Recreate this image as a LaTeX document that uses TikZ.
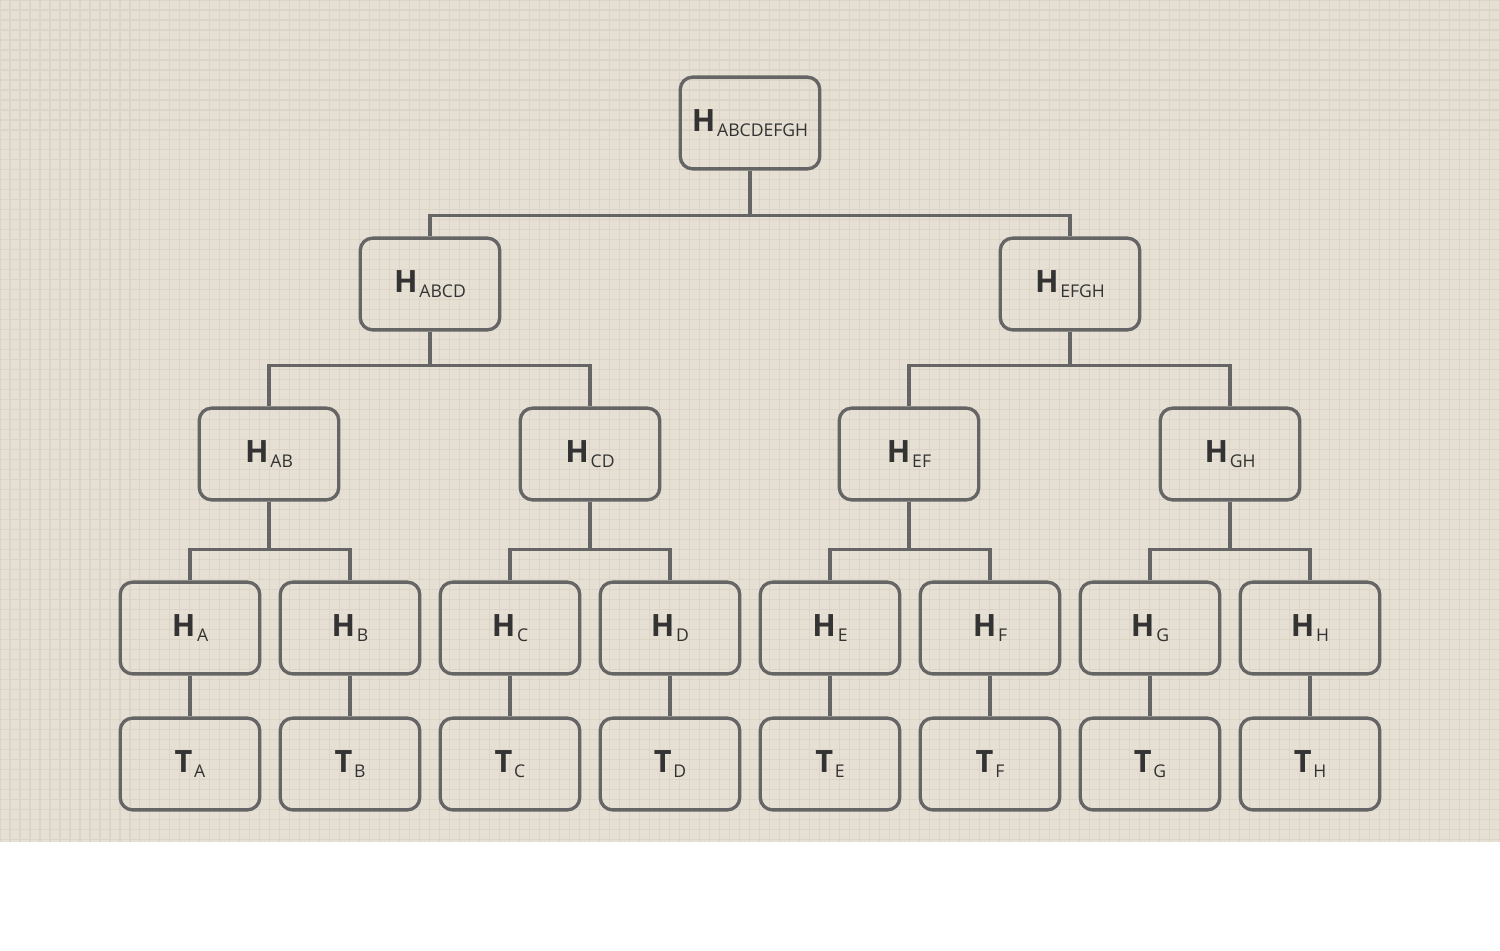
\documentclass[tikz,border=0pt]{standalone}
\usepackage{fontspec}
\setmainfont{Open Sans}
\definecolor{paper}{HTML}{E6E0D4}
\definecolor{gridc}{HTML}{DCD4C7}
\definecolor{boxc}{HTML}{666565}
\definecolor{inkc}{HTML}{333333}
\newcommand{\hlbl}[2]{{\fontsize{17.5}{20}\selectfont\bfseries #1}\kern1pt\raisebox{-2.8pt}{\fontsize{10}{12}\selectfont #2}}
\tikzset{
  hashbox/.style={draw=boxc, line width=1.9pt, rounded corners=7pt, minimum width=79.4pt, minimum height=52.2pt, inner sep=0pt, text=inkc},
  link/.style={draw=boxc, line width=1.9pt}
}
\begin{document}
\begin{tikzpicture}[x=0.02cm, y=-0.02cm]
		\useasboundingbox (0,0) rectangle (1500,950);
		\fill[white] (0,0) rectangle (1500,950);
		\fill[paper] (0,0) rectangle (1500,842);
		\draw[gridc, line width=0.6pt, step=0.2cm] (0,0) grid (1500,842);
		
		% root and first level
		\node[hashbox] (root) at (750,123) {\hlbl{H}{ABCDEFGH}};
		\node[hashbox] (abcd) at (430,284) {\hlbl{H}{ABCD}};
		\node[hashbox] (efgh) at (1070,284) {\hlbl{H}{EFGH}};
		\draw[link] (root.south) -- ++(0,45) -| (abcd.north);
		\draw[link] (root.south) -- ++(0,45) -| (efgh.north);
		
		% second level
		\node[hashbox] (ab) at (269,454) {\hlbl{H}{AB}};
		\node[hashbox] (cd) at (590,454) {\hlbl{H}{CD}};
		\node[hashbox] (ef) at (909,454) {\hlbl{H}{EF}};
		\node[hashbox] (gh) at (1230,454) {\hlbl{H}{GH}};
		\draw[link] (abcd.south) -- ++(0,34) -| (ab.north); \draw[link] (abcd.south) -- ++(0,34) -| (cd.north);
		\draw[link] (efgh.south) -- ++(0,34) -| (ef.north); \draw[link] (efgh.south) -- ++(0,34) -| (gh.north);
		
		% leaves: hashes and transactions
		\foreach \l/\x in {A/190,B/350,C/510,D/670,E/830,F/990,G/1150,H/1310} {
			\node[hashbox] (h\l) at (\x,628) {\hlbl{H}{\l}};
			\node[hashbox] (t\l) at (\x,764) {\hlbl{T}{\l}};
			\draw[link] (h\l.south) -- (t\l.north);
		}
		\foreach \p/\a/\b in {ab/A/B,cd/C/D,ef/E/F,gh/G/H} {
			\draw[link] (\p.south) -- ++(0,48) -| (h\a.north);
			\draw[link] (\p.south) -- ++(0,48) -| (h\b.north);
		}
\end{tikzpicture}
\end{document}
